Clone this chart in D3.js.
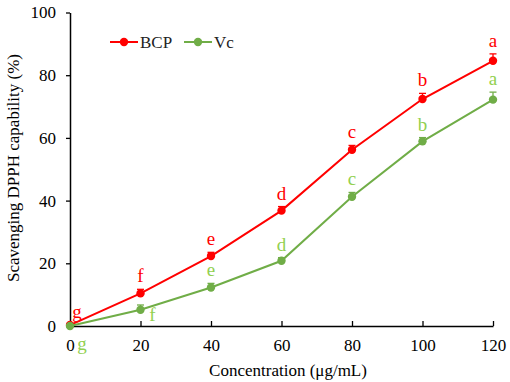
<!DOCTYPE html>
<html><head><meta charset="utf-8">
<script src="https://cdn.jsdelivr.net/npm/d3@7"></script>
<style>body{margin:0;background:#fff}svg{display:block}</style>
</head><body>
<svg id="c" width="510" height="382"></svg>
<script>
const concentrations = [0, 20, 40, 60, 80, 100, 120];
const bcpValues = [0.3, 10.4, 22.3, 36.8, 56.2, 72.4, 84.6];
const bcpErrors = [0.3, 1.3, 1.2, 1.3, 1.4, 1.8, 2.2];
const bcpLetters = ["g", "f", "e", "d", "c", "b", "a"];
const vcValues = [0, 5.2, 12.3, 20.8, 41.2, 58.9, 72.2];
const vcErrors = [0.2, 1.5, 1.3, 1.0, 1.4, 1.2, 2.4];
const vcLetters = ["g", "f", "e", "d", "c", "b", "a"];
const xTicks = [0, 20, 40, 60, 80, 100, 120];
const yTicks = [0, 20, 40, 60, 80, 100];

const FONT = '"Liberation Serif"';
const svg = d3.select("#c");
const x = d3.scaleLinear().domain([0, 120]).range([70, 493]);
const y = d3.scaleLinear().domain([0, 100]).range([326, 12.5]);

const red = "#ff0000", green = "#70ad47", lightGreen = "#92d050";

const yAxis = svg.append("g").attr("transform", "translate(70,0)")
  .call(d3.axisLeft(y).tickValues(yTicks).tickSize(4).tickSizeOuter(0).tickPadding(10));
const xAxis = svg.append("g").attr("transform", "translate(0,326)")
  .call(d3.axisBottom(x).tickValues(xTicks).tickSize(-5).tickSizeOuter(0).tickPadding(13));
[yAxis, xAxis].forEach(a => {
  a.attr("font-family", FONT).attr("font-size", 17);
  a.select(".domain").attr("stroke", "#000").attr("stroke-width", 1.5);
  a.selectAll(".tick line").attr("stroke", "#000").attr("stroke-width", 1.3);
  a.selectAll(".tick text").attr("fill", "#000").attr("font-family", FONT).attr("font-size", 17);
});
xAxis.selectAll(".tick text").attr("dy", "0.71em");

svg.append("text").attr("x", 288).attr("y", 376).attr("text-anchor", "middle")
  .attr("font-family", FONT).attr("font-size", 17).text("Concentration (μg/mL)");
svg.append("text").attr("transform", "translate(19,168) rotate(-90)").attr("text-anchor", "middle")
  .attr("font-family", FONT).attr("font-size", 17).text("Scavenging DPPH capability (%)");

function series(vals, errs, letters, color, letterColor, offsets) {
  const pts = concentrations.map((c, i) => ({c, v: vals[i], e: errs[i], l: letters[i], i}));
  const line = d3.line().x(d => x(d.c)).y(d => y(d.v));
  svg.append("path").datum(pts).attr("d", line).attr("fill", "none")
    .attr("stroke", color).attr("stroke-width", 2);
  const g = svg.append("g");
  pts.forEach(d => {
    g.append("line").attr("x1", x(d.c)).attr("x2", x(d.c)).attr("y1", y(d.v)).attr("y2", y(d.v + d.e))
      .attr("stroke", color).attr("stroke-width", 1.3);
    g.append("line").attr("x1", x(d.c) - 3.5).attr("x2", x(d.c) + 3.5).attr("y1", y(d.v + d.e)).attr("y2", y(d.v + d.e))
      .attr("stroke", color).attr("stroke-width", 1.3);
    g.append("circle").attr("cx", x(d.c)).attr("cy", y(d.v)).attr("r", 4.2).attr("fill", color);
    const o = offsets[d.i] || [0, -7];
    g.append("text").attr("x", x(d.c) + o[0]).attr("y", y(d.v + d.e) + o[1]).attr("text-anchor", "middle")
      .attr("fill", letterColor).attr("font-family", FONT).attr("font-size", 19).text(d.l);
  });
}
series(bcpValues, bcpErrors, bcpLetters, red, red, {0: [7, -6]});
series(vcValues, vcErrors, vcLetters, green, lightGreen, {0: [12, 25], 1: [12, 16]});

const leg = [{n: "BCP", c: red, x: 110}, {n: "Vc", c: green, x: 184}];
leg.forEach(d => {
  svg.append("line").attr("x1", d.x).attr("x2", d.x + 28).attr("y1", 42).attr("y2", 42)
    .attr("stroke", d.c).attr("stroke-width", 2);
  svg.append("circle").attr("cx", d.x + 14).attr("cy", 42).attr("r", 4.2).attr("fill", d.c);
  svg.append("text").attr("x", d.x + 30).attr("y", 48)
    .attr("font-family", FONT).attr("font-size", 17).attr("fill", "#222").text(d.n);
});
</script>
</body></html>
